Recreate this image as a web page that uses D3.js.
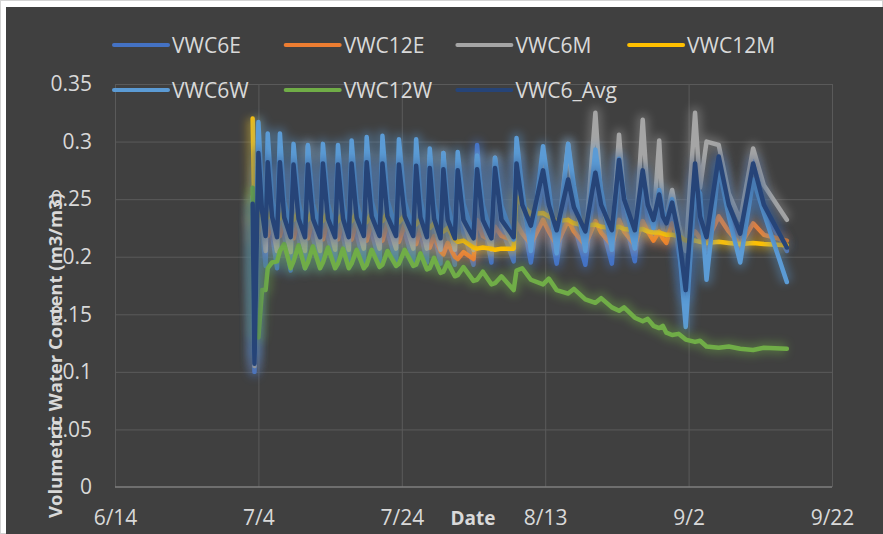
<!DOCTYPE html>
<html>
<head>
<meta charset="utf-8">
<script src="https://cdn.jsdelivr.net/npm/d3@7"></script>
<style>
  html, body { margin: 0; padding: 0; background: #ffffff; }
  svg { display: block; }
</style>
</head>
<body>
<div id="chart"></div>
<script>
// ---- data (days counted from 6/14) ----
var startDate = new Date(2019, 5, 14);

var xTickDays = [0, 20, 40, 60, 80, 100];
var xTickLabels = ['6/14', '7/4', '7/24', '8/13', '9/2', '9/22'];
var yTicks = [0, 0.05, 0.1, 0.15, 0.2, 0.25, 0.3, 0.35];
var yTickLabels = ['0', '0.05', '0.1', '0.15', '0.2', '0.25', '0.3', '0.35'];

var seriesNames = ['VWC6E', 'VWC12E', 'VWC6M', 'VWC12M', 'VWC6W', 'VWC12W', 'VWC6_Avg'];
var seriesColors = ['#4472c4', '#ed7d31', '#a5a5a5', '#ffc000', '#5b9bd5', '#70ad47', '#264478'];

// sample times: start, dip, then trough / peak / knee of each wetting cycle
var days = [
    19.2, 19.45,
    20.0, 20.5,
    21.0, 21.3, 21.9,
    22.6, 23.0, 23.6,
    24.5, 24.9, 25.6,
    26.5, 26.9, 27.6,
    28.6, 29.0, 29.7,
    30.7, 31.1, 31.8,
    32.6, 33.0, 33.7,
    34.7, 35.1, 35.8,
    36.9, 37.3, 38.0,
    39.2, 39.6, 40.4,
    41.6, 42.0, 42.6,
    43.5, 43.9, 44.5,
    45.4, 45.8, 46.4,
    47.4, 47.8, 48.6,
    50.0, 50.5, 51.3,
    52.5, 53.0, 53.9,
    55.6, 56.0, 56.8,
    58.0, 59.7, 60.5,
    61.6, 63.2, 64.0,
    65.6, 67.0, 67.8,
    69.3, 70.3, 71.0,
    72.5, 73.6, 74.3,
    75.1, 75.9, 76.4,
    76.9, 77.7, 78.6,
    79.6, 80.9, 81.6,
    82.5, 84.2, 85.6,
    87.2, 89.0, 90.5,
    93.7
];

var vwc6E = [
    0.240, 0.100,
    0.270, 0.225,
    0.192, 0.268, 0.220,
    0.190, 0.270, 0.218,
    0.188, 0.268, 0.216,
    0.190, 0.268, 0.217,
    0.191, 0.270, 0.218,
    0.192, 0.270, 0.218,
    0.193, 0.272, 0.220,
    0.194, 0.275, 0.221,
    0.195, 0.275, 0.222,
    0.195, 0.276, 0.222,
    0.195, 0.275, 0.222,
    0.195, 0.274, 0.221,
    0.194, 0.272, 0.220,
    0.193, 0.275, 0.221,
    0.193, 0.297, 0.232,
    0.195, 0.280, 0.225,
    0.196, 0.285, 0.235,
    0.195, 0.270, 0.232,
    0.194, 0.262, 0.228,
    0.193, 0.270, 0.230,
    0.194, 0.282, 0.235,
    0.196, 0.270, 0.232,
    0.215, 0.245, 0.225,
    0.215, 0.240, 0.205,
    0.165, 0.270, 0.232,
    0.205, 0.283, 0.240,
    0.205, 0.284, 0.240,
    0.205
];

var vwc12E = [
    0.235, 0.215,
    0.222, 0.232,
    0.222, 0.218, 0.230,
    0.222, 0.218, 0.232,
    0.220, 0.216, 0.232,
    0.220, 0.216, 0.232,
    0.219, 0.215, 0.231,
    0.219, 0.215, 0.231,
    0.218, 0.215, 0.230,
    0.218, 0.214, 0.230,
    0.217, 0.214, 0.229,
    0.216, 0.213, 0.228,
    0.214, 0.211, 0.224,
    0.210, 0.208, 0.218,
    0.205, 0.202, 0.212,
    0.200, 0.198, 0.204,
    0.198, 0.232, 0.218,
    0.214, 0.226, 0.218,
    0.214, 0.229, 0.220,
    0.211, 0.232, 0.222,
    0.210, 0.232, 0.222,
    0.210, 0.231, 0.221,
    0.210, 0.232, 0.222,
    0.210, 0.231, 0.222,
    0.214, 0.222, 0.216,
    0.212, 0.229, 0.218,
    0.212, 0.222, 0.216,
    0.212, 0.235, 0.222,
    0.210, 0.229, 0.219,
    0.214
];

var vwc6M = [
    0.252, 0.105,
    0.280, 0.232,
    0.205, 0.275, 0.228,
    0.205, 0.278, 0.228,
    0.204, 0.276, 0.227,
    0.205, 0.296, 0.232,
    0.205, 0.290, 0.230,
    0.206, 0.282, 0.229,
    0.206, 0.285, 0.230,
    0.207, 0.288, 0.231,
    0.207, 0.285, 0.231,
    0.207, 0.285, 0.231,
    0.207, 0.283, 0.230,
    0.207, 0.288, 0.231,
    0.206, 0.290, 0.232,
    0.206, 0.282, 0.230,
    0.206, 0.285, 0.230,
    0.206, 0.286, 0.231,
    0.208, 0.290, 0.245,
    0.212, 0.287, 0.245,
    0.210, 0.298, 0.248,
    0.212, 0.325, 0.250,
    0.212, 0.306, 0.250,
    0.212, 0.319, 0.252,
    0.229, 0.301, 0.240,
    0.235, 0.258, 0.228,
    0.205, 0.325, 0.260,
    0.300, 0.297, 0.255,
    0.232, 0.294, 0.262,
    0.232
];

var vwc12M = [
    0.320, 0.232,
    0.236, 0.240,
    0.232, 0.234, 0.240,
    0.232, 0.233, 0.240,
    0.230, 0.232, 0.239,
    0.230, 0.232, 0.240,
    0.230, 0.231, 0.239,
    0.229, 0.231, 0.238,
    0.229, 0.231, 0.238,
    0.229, 0.230, 0.238,
    0.230, 0.231, 0.238,
    0.229, 0.230, 0.236,
    0.227, 0.228, 0.233,
    0.225, 0.225, 0.229,
    0.222, 0.222, 0.225,
    0.215, 0.213, 0.214,
    0.208, 0.207, 0.208,
    0.207, 0.206, 0.207,
    0.207, 0.252, 0.245,
    0.237, 0.238, 0.235,
    0.231, 0.232, 0.229,
    0.227, 0.228, 0.226,
    0.225, 0.226, 0.224,
    0.223, 0.224, 0.222,
    0.221, 0.221, 0.220,
    0.219, 0.219, 0.218,
    0.214, 0.214, 0.213,
    0.212, 0.213, 0.212,
    0.211, 0.212, 0.211,
    0.210
];

var vwc6W = [
    0.250, 0.115,
    0.317, 0.255,
    0.228, 0.307, 0.250,
    0.226, 0.307, 0.248,
    0.225, 0.298, 0.247,
    0.224, 0.297, 0.246,
    0.224, 0.298, 0.246,
    0.223, 0.297, 0.245,
    0.223, 0.301, 0.247,
    0.224, 0.304, 0.248,
    0.224, 0.305, 0.249,
    0.224, 0.302, 0.248,
    0.223, 0.302, 0.250,
    0.222, 0.294, 0.246,
    0.221, 0.290, 0.245,
    0.220, 0.291, 0.246,
    0.218, 0.288, 0.245,
    0.218, 0.286, 0.244,
    0.215, 0.303, 0.258,
    0.205, 0.296, 0.260,
    0.203, 0.298, 0.262,
    0.205, 0.293, 0.258,
    0.206, 0.285, 0.252,
    0.207, 0.272, 0.245,
    0.225, 0.258, 0.240,
    0.230, 0.250, 0.215,
    0.139, 0.262, 0.255,
    0.180, 0.278, 0.235,
    0.195, 0.267, 0.238,
    0.178
];

var vwc12W = [
    0.260, 0.135,
    0.130, 0.171,
    0.171, 0.190, 0.195,
    0.196, 0.205, 0.211,
    0.190, 0.196, 0.210,
    0.190, 0.195, 0.209,
    0.190, 0.195, 0.208,
    0.190, 0.194, 0.207,
    0.190, 0.194, 0.206,
    0.190, 0.193, 0.206,
    0.191, 0.193, 0.205,
    0.192, 0.194, 0.206,
    0.192, 0.193, 0.203,
    0.189, 0.190, 0.199,
    0.186, 0.187, 0.195,
    0.183, 0.184, 0.191,
    0.179, 0.180, 0.187,
    0.176, 0.177, 0.183,
    0.171, 0.188, 0.190,
    0.180, 0.176, 0.181,
    0.171, 0.168, 0.172,
    0.163, 0.160, 0.164,
    0.156, 0.153, 0.156,
    0.147, 0.144, 0.146,
    0.140, 0.138, 0.140,
    0.134, 0.132, 0.133,
    0.128, 0.126, 0.127,
    0.122, 0.121, 0.122,
    0.120, 0.119, 0.121,
    0.120
];

var vwc6Avg = [
    0.246, 0.107,
    0.290, 0.240,
    0.218, 0.282, 0.235,
    0.217, 0.282, 0.234,
    0.217, 0.280, 0.233,
    0.217, 0.280, 0.233,
    0.217, 0.281, 0.233,
    0.217, 0.280, 0.233,
    0.217, 0.281, 0.234,
    0.218, 0.282, 0.235,
    0.218, 0.281, 0.235,
    0.218, 0.280, 0.235,
    0.218, 0.279, 0.234,
    0.217, 0.277, 0.233,
    0.216, 0.276, 0.232,
    0.216, 0.275, 0.232,
    0.216, 0.276, 0.232,
    0.216, 0.277, 0.232,
    0.217, 0.281, 0.245,
    0.227, 0.275, 0.245,
    0.223, 0.267, 0.243,
    0.222, 0.273, 0.245,
    0.223, 0.284, 0.250,
    0.223, 0.275, 0.245,
    0.232, 0.254, 0.235,
    0.229, 0.247, 0.220,
    0.171, 0.281, 0.235,
    0.217, 0.287, 0.245,
    0.220, 0.281, 0.245,
    0.208
];

var seriesValues = [vwc6E, vwc12E, vwc6M, vwc12M, vwc6W, vwc12W, vwc6Avg];

// ---- layout ----
var fullWidth = 883;
var fullHeight = 534;
var plotLeft = 115;
var plotRight = 832;
var plotTop = 84;
var plotBottom = 487;
var mainFont = '"Open Sans", "DejaVu Sans", sans-serif';
var textColor = '#d9d9d9';
var gridColor = '#5a5a5a';

function dayToDate(d) {
    return new Date(startDate.getTime() + d * 864e5);
}

function render() {
    var svg = d3.select('#chart').append('svg')
        .attr('width', fullWidth)
        .attr('height', fullHeight);

    // chart background with thin white frame
    svg.append('rect')
        .attr('x', 0.5).attr('y', 0.5)
        .attr('width', fullWidth - 1).attr('height', fullHeight - 1)
        .attr('fill', '#ffffff')
        .attr('stroke', '#d4d4d4');
    svg.append('rect')
        .attr('x', 6).attr('y', 7)
        .attr('width', fullWidth - 6).attr('height', fullHeight - 7)
        .attr('fill', '#404040');

    var defs = svg.append('defs');
    defs.append('filter')
        .attr('id', 'glow')
        .attr('filterUnits', 'userSpaceOnUse')
        .attr('x', 0).attr('y', 0)
        .attr('width', fullWidth).attr('height', fullHeight)
        .append('feGaussianBlur')
        .attr('stdDeviation', 4.5);

    var x = d3.scaleTime()
        .domain([dayToDate(0), dayToDate(100)])
        .range([plotLeft, plotRight]);
    var y = d3.scaleLinear()
        .domain([0, 0.35])
        .range([plotBottom, plotTop]);

    // horizontal grid
    svg.append('g')
        .attr('transform', 'translate(' + plotLeft + ',0)')
        .call(d3.axisLeft(y).tickValues(yTicks.slice(1))
            .tickSize(-(plotRight - plotLeft)).tickFormat(''))
        .call(function(g) {
            g.select('.domain').remove();
            g.selectAll('line').attr('stroke', gridColor).attr('stroke-width', 1);
        });

    // vertical grid
    svg.append('g')
        .attr('transform', 'translate(0,' + plotBottom + ')')
        .call(d3.axisBottom(x).tickValues(xTickDays.map(dayToDate))
            .tickSize(-(plotBottom - plotTop)).tickFormat(''))
        .call(function(g) {
            g.select('.domain').remove();
            g.selectAll('line').attr('stroke', gridColor).attr('stroke-width', 1);
        });

    // bottom axis line
    svg.append('line')
        .attr('x1', plotLeft).attr('x2', plotRight)
        .attr('y1', plotBottom).attr('y2', plotBottom)
        .attr('stroke', '#7f7f7f')
        .attr('stroke-width', 1.5);

    // tick labels
    svg.append('g')
        .attr('transform', 'translate(' + plotLeft + ',0)')
        .call(d3.axisLeft(y).tickValues(yTicks).tickSize(0).tickPadding(23)
            .tickFormat(function(d, i) { return yTickLabels[i]; }))
        .call(function(g) {
            g.select('.domain').remove();
            g.selectAll('text')
                .style('font-family', mainFont)
                .style('font-size', '21px')
                .attr('fill', textColor);
        });

    svg.append('g')
        .attr('transform', 'translate(0,' + plotBottom + ')')
        .call(d3.axisBottom(x).tickValues(xTickDays.map(dayToDate)).tickSize(0).tickPadding(23)
            .tickFormat(function(d, i) { return xTickLabels[i]; }))
        .call(function(g) {
            g.select('.domain').remove();
            g.selectAll('text')
                .style('font-family', mainFont)
                .style('font-size', '21px')
                .attr('fill', textColor);
        });

    // axis titles
    svg.append('text')
        .attr('x', 473)
        .attr('y', 525)
        .style('text-anchor', 'middle')
        .style('font-family', mainFont)
        .style('font-size', '19px')
        .style('font-weight', 'bold')
        .attr('fill', textColor)
        .text('Date');

    svg.append('text')
        .attr('transform', 'translate(62,518) rotate(-90)')
        .style('text-anchor', 'start')
        .style('font-family', mainFont)
        .style('font-size', '18.5px')
        .style('font-weight', 'bold')
        .attr('fill', textColor)
        .text('Volumetric Water Content (m3/m3)');

    // series lines, each with a soft glow
    var line = d3.line()
        .x(function(d) { return x(dayToDate(d[0])); })
        .y(function(d) { return y(d[1]); });

    for (var s = 0; s < seriesNames.length; s++) {
        var pts = days.map(function(d, i) { return [d, seriesValues[s][i]]; });
        svg.append('path')
            .attr('d', line(pts))
            .attr('fill', 'none')
            .attr('stroke', seriesColors[s])
            .attr('stroke-width', 12)
            .attr('stroke-linejoin', 'round')
            .attr('opacity', 0.38)
            .attr('filter', 'url(#glow)');
        svg.append('path')
            .attr('d', line(pts))
            .attr('fill', 'none')
            .attr('stroke', seriesColors[s])
            .attr('stroke-width', 4.5)
            .attr('stroke-linejoin', 'round')
            .attr('stroke-linecap', 'round');
    }

    // legend: two rows of four
    var legendX0 = 114;
    var legendStep = 171.7;
    var legendRows = [45, 90];
    for (var k = 0; k < seriesNames.length; k++) {
        var lx = legendX0 + (k % 4) * legendStep;
        var ly = legendRows[Math.floor(k / 4)];
        svg.append('line')
            .attr('x1', lx).attr('x2', lx + 54)
            .attr('y1', ly).attr('y2', ly)
            .attr('stroke', seriesColors[k])
            .attr('stroke-width', 4)
            .attr('stroke-linecap', 'round');
        svg.append('text')
            .attr('x', lx + 58)
            .attr('y', ly + 7.5)
            .style('font-family', mainFont)
            .style('font-size', '21px')
            .attr('fill', textColor)
            .text(seriesNames[k]);
    }
}

render();
</script>
</body>
</html>
